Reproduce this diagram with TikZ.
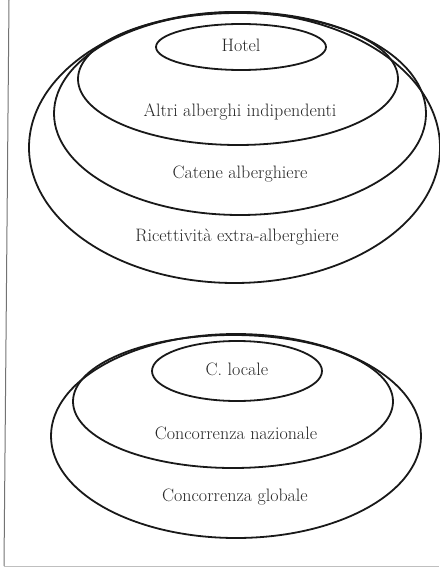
\documentclass[tikz,border=0pt]{standalone}
\usepackage{tikz}
\usetikzlibrary{shapes.geometric}

\begin{document}
\begin{tikzpicture}[x=1pt, y=-1pt,
        every node/.style={font=\fontsize{18}{21}\selectfont},
        ring/.style={ellipse, draw=black!90, line width=1.8pt, inner sep=0pt},
        lbl/.style={text=black!85, inner sep=1pt},
        frame/.style={draw=black!55, line width=1pt}]
        \useasboundingbox (0,0) rectangle (439,569);

        % frame on the left and at the bottom
        \coordinate (ftop) at (9,0);
        \coordinate (fcorner) at (4,566);
        \coordinate (fright) at (439,566);
        \draw[frame] (ftop) -- (fcorner);
        \draw[frame, draw=black!25] (fcorner) -- (fright);

        % upper group
        \node[ring, minimum width=411pt, minimum height=271pt] (extra) at (234.5,147.5) {};
        \node[ring, minimum width=372pt, minimum height=203pt] (catene) at (240,113.5) {};
        \node[ring, minimum width=320pt, minimum height=132pt] (altri) at (238,79) {};
        \node[ring, minimum width=170pt, minimum height=46pt] (hotel) at (241,47) {};

        \node[lbl] (thotel) at (241,45) {Hotel};
        \node[lbl] (taltri) at (240,112) {Altri alberghi indipendenti};
        \node[lbl] (tcatene) at (240,174) {Catene alberghiere};
        \node[lbl] (textra) at (237,237) {Ricettività extra-alberghiere};

        % lower group
        \node[ring, minimum width=370pt, minimum height=204pt] (globale) at (236,436) {};
        \node[ring, minimum width=320pt, minimum height=133pt] (nazionale) at (233,401.5) {};
        \node[ring, minimum width=170pt, minimum height=60pt] (locale) at (237,371) {};

        \node[lbl] (tlocale) at (237,369) {C. locale};
        \node[lbl] (tnazionale) at (236,433) {Concorrenza nazionale};
        \node[lbl] (tglobale) at (235,497) {Concorrenza globale};
    \end{tikzpicture}
\end{document}
